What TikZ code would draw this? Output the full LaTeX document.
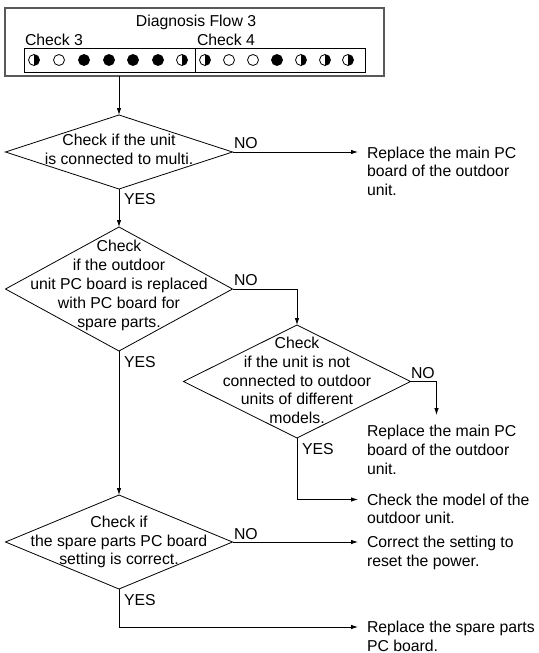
\documentclass[tikz,border=0pt]{standalone}
\usepackage{fontspec}
\setmainfont{Liberation Sans}
\usetikzlibrary{shapes.geometric,arrows.meta}
\begin{document}
\begin{tikzpicture}[x=1pt,y=-1pt,
  txt/.style={font=\fontsize{15.8}{18.8}\selectfont, inner sep=0pt, outer sep=0pt},
  dia/.style={diamond, draw, line width=0.8pt, inner sep=0pt, outer sep=0pt, minimum width=227pt},
  lbl/.style={txt, anchor=base west},
  res/.style={txt, anchor=west, align=left},
  dtxt/.style={txt, align=center},
  led/.style={circle, draw, line width=0.8pt, minimum size=11pt, inner sep=0pt, outer sep=0pt},
  ledon/.style={led, fill=black},
  ledhalf/.style={led, path picture={\fill (path picture bounding box.north) rectangle (path picture bounding box.south east);}},
  con/.style={line width=0.8pt},
  arr/.style={con, -{Latex[length=7pt,width=4.5pt]}},
]
\useasboundingbox (0,0) rectangle (538,653);

% header panel
\node[draw=black!65, line width=1.2pt, minimum width=379pt, minimum height=68pt, inner sep=0pt, outer sep=0pt, anchor=north west] (panel) at (5,8) {};
\node[draw, line width=0.8pt, minimum width=341pt, minimum height=24pt, inner sep=0pt, outer sep=0pt, anchor=north west] (leds) at (24,48) {};
\coordinate (div) at (195,60);
\draw[con] (div |- leds.north) -- (div |- leds.south);
\node[txt, anchor=base] (title) at (196,27) {Diagnosis Flow 3};
\node[lbl] (c3) at (25,45) {Check 3};
\node[lbl] (c4) at (197,45) {Check 4};

% Check 3 LEDs
\node[ledhalf] (a1) at (34,60) {};
\node[led]     (a2) at (59,60) {};
\node[ledon]   (a3) at (84,60) {};
\node[ledon]   (a4) at (109,60) {};
\node[ledon]   (a5) at (133,60) {};
\node[ledon]   (a6) at (158,60) {};
\node[ledhalf] (a7) at (182,60) {};
% Check 4 LEDs
\node[ledhalf] (b1) at (205,60) {};
\node[led]     (b2) at (229,60) {};
\node[led]     (b3) at (253,60) {};
\node[ledon]   (b4) at (277,60) {};
\node[ledhalf] (b5) at (301,60) {};
\node[ledhalf] (b6) at (325,60) {};
\node[ledhalf] (b7) at (348,60) {};

% diamonds
\node[dia, minimum height=74pt]  (d1) at (119,152) {};
\node[dia, minimum height=124pt] (d2) at (119,289) {};
\node[dia, minimum height=113pt] (d3) at (297,381.5) {};
\node[dia, minimum height=94pt]  (d4) at (119,542) {};

\node[dtxt] (d1t) at (119,149.3) {Check if the unit\\is connected to multi.};
\node[dtxt] (d2t) at (119,285.5) {Check\\if the outdoor\\unit PC board is replaced\\with PC board for\\spare parts.};
\node[dtxt] (d3t) at (297,380.5) {Check\\if the unit is not\\connected to outdoor\\units of different\\models.};
\node[dtxt] (d4t) at (119,542) {Check if\\the spare parts PC board\\setting is correct.};

% results
\node[res] (r1) at (367,171.2) {Replace the main PC\\board of the outdoor\\unit.};
\node[res] (r2) at (367,449.7) {Replace the main PC\\board of the outdoor\\unit.};
\node[res] (r3) at (367,508.8) {Check the model of the\\outdoor unit.};
\node[res] (r4) at (367,553) {Correct the setting to\\reset the power.};
\node[res] (r5) at (367,636) {Replace the spare parts\\PC board.};

% arrow end points and corners
\coordinate (t1) at (358,152);
\coordinate (k3) at (436.5,381.5);
\coordinate (t2) at (436.5,415);
\coordinate (t3) at (358,499.5);
\coordinate (t4) at (358,542);
\coordinate (t5) at (358,627);

% connectors
\draw[arr] (d1.north |- panel.south) -- (d1.north);
\draw[arr] (d1.east) -- (t1);
\draw[arr] (d1.south) -- (d2.north);
\draw[arr] (d2.east) -- (d3.north |- d2.east) -- (d3.north);
\draw[arr] (d3.east) -- (k3) -- (t2);
\draw[arr] (d3.south) -- (d3.south |- t3) -- (t3);
\draw[arr] (d2.south) -- (d4.north);
\draw[arr] (d4.east) -- (t4);
\draw[arr] (d4.south) -- (d4.south |- t5) -- (t5);

% labels
\node[lbl] (no1)  at (234,148) {NO};
\node[lbl] (yes1) at (124,204) {YES};
\node[lbl] (no2)  at (234,285.5) {NO};
\node[lbl] (yes2) at (124,367) {YES};
\node[lbl] (no3)  at (411,378) {NO};
\node[lbl] (yes3) at (302,454) {YES};
\node[lbl] (no4)  at (234,539) {NO};
\node[lbl] (yes4) at (124,605) {YES};
\end{tikzpicture}
\end{document}
